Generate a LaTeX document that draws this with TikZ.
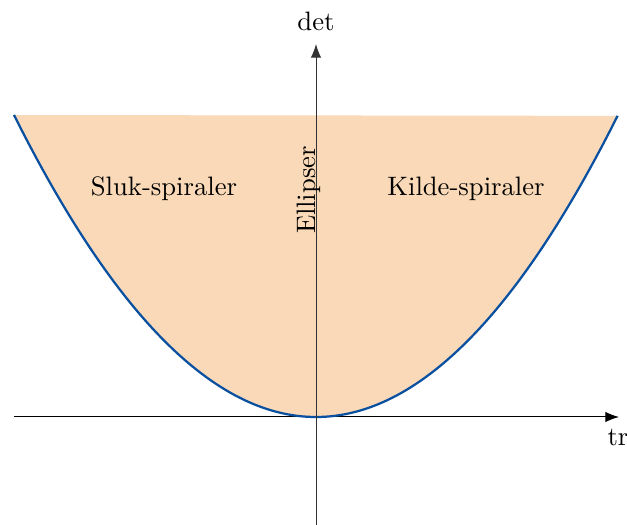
\documentclass[tikz,border=0pt]{standalone}
\usetikzlibrary{arrows.meta}
\definecolor{regionfill}{RGB}{249,217,183}
\definecolor{curveblue}{RGB}{10,80,160}
\begin{document}
\begin{tikzpicture}[x=0.4pt,y=-0.4pt,
  axis/.style={line width=0.4pt,-{Latex[length=5.5pt,width=4.2pt]}},
  curve/.style={curveblue,line width=0.9pt},
  lbl/.style={font=\fontsize{10.66}{12.8}\selectfont,inner sep=0pt}]
\useasboundingbox (0,0) rectangle (627,525);
\coordinate (xs) at (14,417);
\coordinate (xe) at (619,417);
\coordinate (ys) at (316,525);
\coordinate (ye) at (316,44);
\fill[regionfill] plot[domain=-1:1,samples=100,smooth] ({316+302*\x},{417-302*\x*\x}) -- cycle;
\draw[axis] (xs) -- (xe);
\draw[curve] plot[domain=-1:1,samples=100,smooth] ({316+302*\x},{417-302*\x*\x});
\draw[axis,black!80] (ys) -- (ye);
\node[lbl,anchor=south] (det) at (316,31) {det};
\node[lbl,anchor=north] (tr) at (618,429) {tr};
\node[lbl] (sluk) at (164,189) {Sluk-spiraler};
\node[lbl] (kilde) at (466,189) {Kilde-spiraler};
\node[lbl,rotate=90,anchor=base] (ell) at (315,190) {Ellipser};
\end{tikzpicture}
\end{document}
